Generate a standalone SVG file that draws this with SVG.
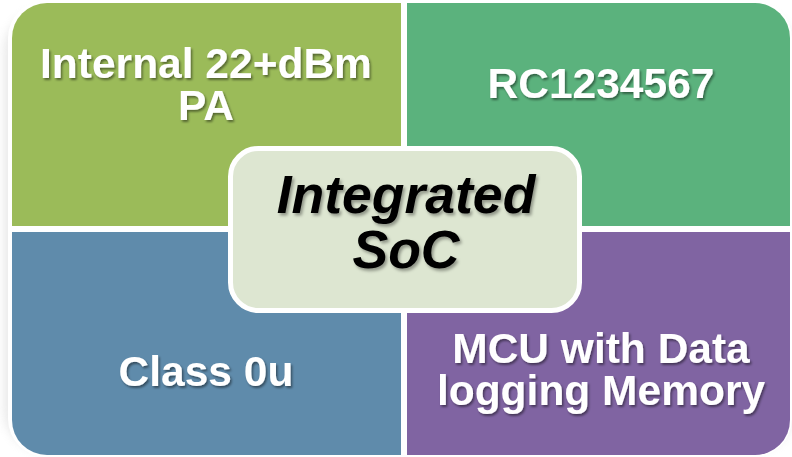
<svg xmlns="http://www.w3.org/2000/svg" width="792" height="457" viewBox="0 0 792 457">
<defs>
<filter id="glow" x="-10%" y="-10%" width="120%" height="120%"><feGaussianBlur stdDeviation="5"/></filter>
<filter id="ts" x="-10%" y="-20%" width="120%" height="140%"><feDropShadow dx="1.5" dy="2" stdDeviation="1.2" flood-color="#000" flood-opacity="0.45"/></filter>
<filter id="ts2" x="-10%" y="-20%" width="120%" height="140%"><feDropShadow dx="2" dy="2.5" stdDeviation="1.5" flood-color="#000" flood-opacity="0.35"/></filter>
</defs>
<style>
.q{stroke:none}
.lbl{font-family:"Liberation Sans",Arial,sans-serif;font-weight:bold;font-size:42.5px;fill:#fff;text-anchor:middle;filter:url(#ts)}
.ctr{font-family:"Liberation Sans",Arial,sans-serif;font-weight:bold;font-style:italic;font-size:53.5px;fill:#000;text-anchor:middle;filter:url(#ts2)}
</style>
<rect width="792" height="457" fill="#fff"/>
<rect x="4" y="10" width="790" height="441" rx="40" fill="#c8c8c8" opacity="0.4" filter="url(#glow)"/>
<rect x="8" y="0" width="784" height="457" fill="#fff" rx="38"/>
<g id="node-pa">
<path class="q" d="M12,38 A35,35 0 0 1 47,3 H401 V226 H12 Z" fill="#9BBB59"/>
<text class="lbl" x="206" y="78">Internal 22+dBm</text>
<text class="lbl" x="206" y="120">PA</text>
</g>
<g id="node-rc">
<path class="q" d="M407,3 H755 A35,35 0 0 1 790,38 V226 H407 Z" fill="#5BB27D"/>
<text class="lbl" x="601" y="98">RC1234567</text>
</g>
<g id="node-class">
<path class="q" d="M12,232 H401 V455 H47 A35,35 0 0 1 12,420 Z" fill="#5F8BAB"/>
<text class="lbl" x="206" y="386">Class 0u</text>
</g>
<g id="node-mcu">
<path class="q" d="M407,232 H790 V420 A35,35 0 0 1 755,455 H407 Z" fill="#8064A2"/>
<text class="lbl" x="601" y="363">MCU with Data</text>
<text class="lbl" x="601" y="405">logging Memory</text>
</g>
<g id="connectors"></g>
<g id="node-soc">
<rect x="230.5" y="148.5" width="349" height="162" rx="28" fill="#DDE6D1" stroke="#fff" stroke-width="5"/>
<text class="ctr" x="406" y="213">Integrated</text>
<text class="ctr" x="406" y="268">SoC</text>
</g>
</svg>
